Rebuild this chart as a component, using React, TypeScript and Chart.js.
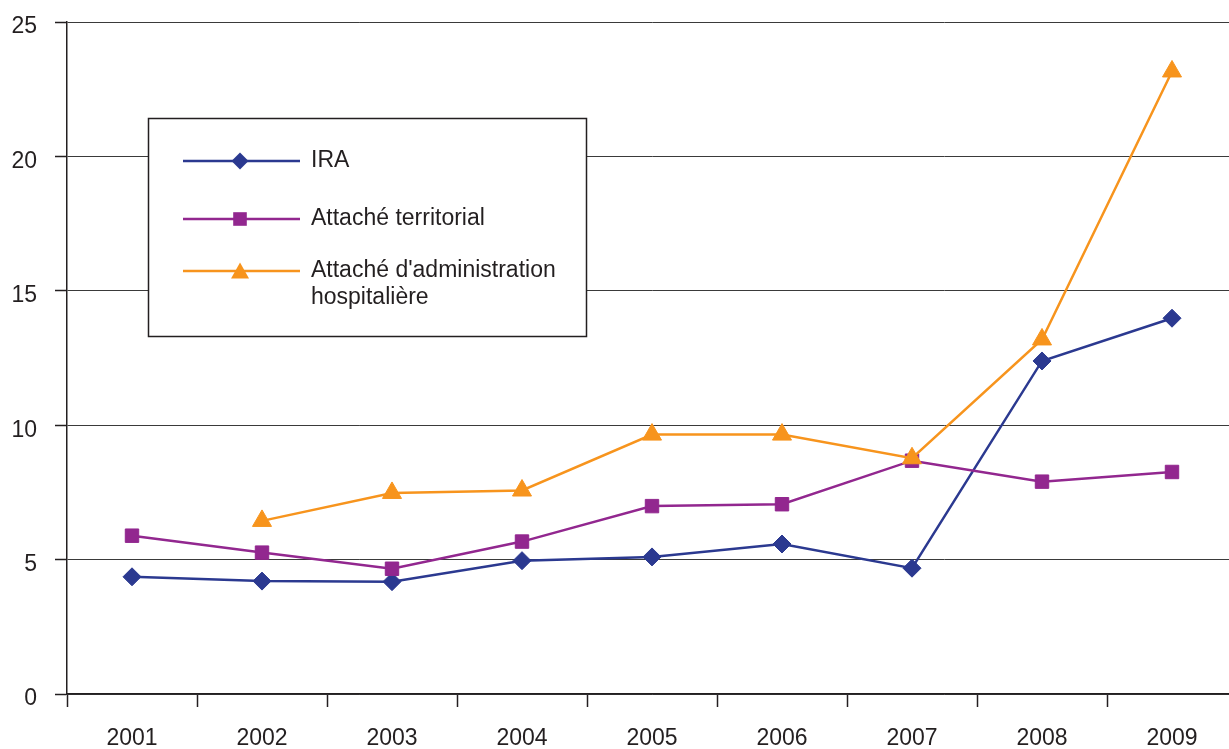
import React, { useEffect, useRef } from "react";
import { Chart, registerables } from "chart.js";

Chart.register(...registerables);

const years = ["2001", "2002", "2003", "2004", "2005", "2006", "2007", "2008", "2009"];
const ira = [4.36, 4.2, 4.18, 4.96, 5.1, 5.58, 4.68, 12.39, 13.98];
const attacheTerritorial = [5.89, 5.26, 4.66, 5.67, 6.99, 7.06, 8.68, 7.9, 8.26];
const attacheHospitalier = [null, 6.44, 7.48, 7.57, 9.65, 9.65, 8.77, 13.19, 23.16];
const yTicks = [0, 5, 10, 15, 20, 25];

const C_IRA = "#2b3990";
const C_AT = "#92278f";
const C_AAH = "#f7941d";
const TEXT = "#231f20";
const FONT = '"Liberation Sans", Arial, sans-serif';

const legendItems = [
  { lines: ["IRA"], color: C_IRA, marker: "diamond" },
  { lines: ["Attaché territorial"], color: C_AT, marker: "square" },
  { lines: ["Attaché d'administration", "hospitalière"], color: C_AAH, marker: "triangle" },
];

const legendPlugin = {
  id: "boxLegend",
  afterDraw(chart: any) {
    const ctx = chart.ctx as CanvasRenderingContext2D;
    ctx.save();
    ctx.fillStyle = "#ffffff";
    ctx.fillRect(148.5, 118.5, 438, 218);
    ctx.strokeStyle = "#231f20";
    ctx.lineWidth = 1.5;
    ctx.strokeRect(148.5, 118.5, 438, 218);
    const lineYs = [161, 219, 271];
    const baseYs = [[167], [225], [277, 304]];
    legendItems.forEach((it, i) => {
      const y = lineYs[i];
      ctx.strokeStyle = it.color;
      ctx.lineWidth = 2.5;
      ctx.beginPath();
      ctx.moveTo(183, y);
      ctx.lineTo(300, y);
      ctx.stroke();
      ctx.fillStyle = it.color;
      ctx.beginPath();
      const x = 240;
      if (it.marker === "diamond") {
        ctx.moveTo(x - 8.5, y);
        ctx.lineTo(x, y - 8.5);
        ctx.lineTo(x + 8.5, y);
        ctx.lineTo(x, y + 8.5);
      } else if (it.marker === "square") {
        ctx.rect(x - 6.8, y - 6.8, 13.6, 13.6);
      } else {
        ctx.moveTo(x, y - 8.5);
        ctx.lineTo(x + 9, y + 7.5);
        ctx.lineTo(x - 9, y + 7.5);
      }
      ctx.closePath();
      ctx.fill();
      ctx.fillStyle = TEXT;
      ctx.font = `23px ${FONT}`;
      ctx.textAlign = "left";
      ctx.textBaseline = "alphabetic";
      it.lines.forEach((t, j) => ctx.fillText(t, 311, baseYs[i][j]));
    });
    ctx.restore();
  },
};

function App() {
  const ref = useRef<HTMLCanvasElement | null>(null);
  useEffect(() => {
    if (!ref.current) return;
    const mk = (label: string, data: any[], color: string, style: any, radius: number, order: number) => ({
      label,
      data,
      borderColor: color,
      backgroundColor: color,
      borderWidth: 2.5,
      pointStyle: style,
      pointRadius: radius,
      pointBorderWidth: 1,
      pointBorderColor: color,
      pointBackgroundColor: color,
      tension: 0,
      order,
    });
    const chart = new Chart(ref.current, {
      type: "line",
      data: {
        labels: years,
        datasets: [
          mk("IRA", ira, C_IRA, "rectRot", 9, 3),
          mk("Attaché territorial", attacheTerritorial, C_AT, "rect", 9.5, 2),
          mk("Attaché d'administration hospitalière", attacheHospitalier, C_AAH, "triangle", 11, 1),
        ],
      },
      options: {
        responsive: false,
        animation: false,
        layout: { padding: { top: 22, right: 3, left: 0, bottom: 0 } },
        plugins: { legend: { display: false }, tooltip: { enabled: false } },
        scales: {
          x: {
            offset: true,
            grid: {
              offset: true,
              drawOnChartArea: false,
              drawTicks: true,
              tickLength: 13,
              tickColor: TEXT,
              tickWidth: 1.5,
            },
            border: { display: true, color: TEXT, width: 1.5 },
            ticks: { color: TEXT, font: { family: FONT, size: 23 }, padding: 18, maxRotation: 0, autoSkip: false },
            afterFit: (s: any) => {
              s.height = 55;
            },
          },
          y: {
            min: 0,
            max: 25,
            afterBuildTicks: (s: any) => {
              s.ticks = yTicks.map((v) => ({ value: v }));
            },
            grid: {
              color: "#3a3a3a",
              lineWidth: 1,
              tickLength: 12,
              tickColor: TEXT,
              tickWidth: 1.5,
            },
            border: { display: true, color: TEXT, width: 1.5 },
            ticks: { color: TEXT, font: { family: FONT, size: 23 }, padding: 18, labelOffset: 5 },
            afterFit: (s: any) => {
              s.width = 67;
              s.paddingTop = 0;
              s.paddingBottom = 0;
            },
          },
        },
      },
      plugins: [legendPlugin],
    });
    return () => chart.destroy();
  }, []);
  return (
    <div style={{ position: "absolute", left: 0, top: 0, width: 1229, height: 749, overflow: "hidden", background: "#fff" }}>
      <canvas ref={ref} width={1249} height={749} style={{ width: 1249, height: 749, display: "block" }} />
    </div>
  );
}

export default App;
